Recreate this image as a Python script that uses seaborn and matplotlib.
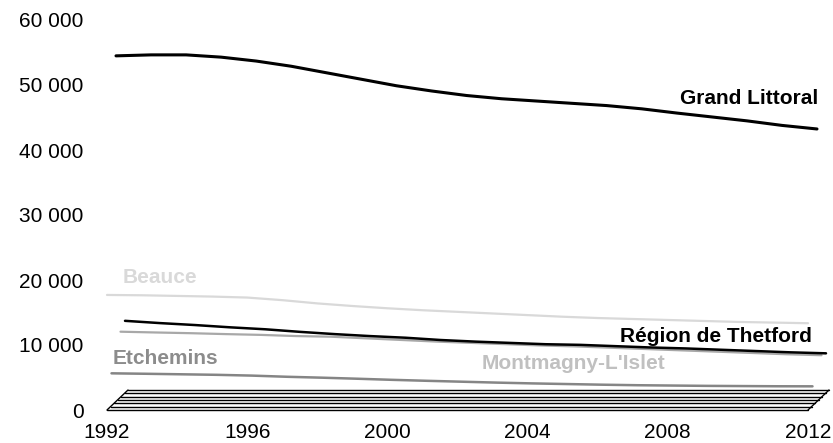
import numpy as np
import pandas as pd
import seaborn as sns
import matplotlib
matplotlib.use("Agg")
import matplotlib.pyplot as plt
from matplotlib.transforms import offset_copy, IdentityTransform

# Population by territory, 1992-2012
years = list(range(1992, 2013))
beauce = [17700, 17650, 17550, 17450, 17300, 16900, 16400, 16000, 15650, 15350,
          15100, 14850, 14600, 14350, 14150, 14000, 13850, 13700, 13550, 13450, 13350]
etchemins = [4950, 4880, 4800, 4720, 4600, 4420, 4280, 4120, 3950, 3800,
             3660, 3520, 3400, 3300, 3200, 3120, 3070, 3020, 2990, 2960, 2950]
grand_littoral = [53100, 53250, 53250, 52900, 52300, 51500, 50500, 49500, 48500, 47700,
                  47000, 46500, 46150, 45800, 45450, 44950, 44300, 43700, 43100, 42400, 41850]
montmagny = [9970, 9850, 9740, 9600, 9480, 9300, 9200, 8950, 8700, 8450,
             8250, 8050, 7850, 7700, 7500, 7300, 7100, 6900, 6700, 6500, 6350]
thetford = [10950, 10600, 10300, 9950, 9650, 9250, 8900, 8600, 8350, 8000,
            7750, 7550, 7350, 7250, 7050, 6850, 6700, 6500, 6300, 6100, 5950]

names = ["Beauce", "Etchemins", "Grand Littoral", "Montmagny-L'Islet", "Région de Thetford"]
values = [beauce, etchemins, grand_littoral, montmagny, thetford]
line_colors = ["#d9d9d9", "#858585", "#000000", "#a8a8a8", "#000000"]
line_widths = [1.6, 1.8, 2.2, 1.6, 1.8]

y_ticks = [0, 10000, 20000, 30000, 40000, 50000, 60000]
x_ticks = [1992, 1996, 2000, 2004, 2008, 2012]

df = pd.DataFrame({"Année": years * len(names),
                   "Population": sum(values, []),
                   "Territoire": sum([[n] * len(years) for n in names], [])})

sns.set_style("white")
plt.rcParams["font.family"] = ["Liberation Sans", "DejaVu Sans"]

DPI = 100
fig = plt.figure(figsize=(8.33, 4.43), dpi=DPI)
ax = fig.add_axes([107 / 833, 33 / 443, 701 / 833, 390 / 443])

# depth step between series ribbons (pseudo-3D, in pixels)
step = 4.5
for d, (name, col, lw) in enumerate(zip(names, line_colors, line_widths)):
    tr = offset_copy(ax.transData, fig=fig, x=step * d, y=step * d, units="dots")
    sns.lineplot(data=df[df["Territoire"] == name], x="Année", y="Population",
                 color=col, linewidth=lw, ax=ax, transform=tr, clip_on=False,
                 legend=False)

ax.set_xlim(1992, 2012)
ax.set_ylim(0, 60000)

# hatched floor
floor_dx, floor_dy = 21, 20
n_floor = 7
for k in range(n_floor):
    tr = offset_copy(ax.transData, fig=fig, x=floor_dx * k / (n_floor - 1),
                     y=floor_dy * k / (n_floor - 1), units="dots")
    ax.plot([1992, 2012], [0, 0], color="black", lw=1.0, transform=tr, clip_on=False)
fig.canvas.draw()
for xe in (1992, 2012):
    p0 = ax.transData.transform((xe, 0))
    ax.add_line(plt.Line2D([p0[0], p0[0] + floor_dx], [p0[1], p0[1] + floor_dy],
                           color="black", lw=1.0, transform=IdentityTransform(),
                           clip_on=False))

ax.set_xticks(x_ticks)
ax.set_yticks(y_ticks)
ax.set_yticklabels([f"{v:,}".replace(",", " ") for v in y_ticks])
ax.tick_params(axis="both", length=0, labelsize=15, colors="black")
ax.tick_params(axis="y", pad=17)
ax.tick_params(axis="x", pad=9)
ax.set_xlabel("")
ax.set_ylabel("")
for s in ax.spines.values():
    s.set_visible(False)

# series labels
lab = dict(fontsize=15, fontweight="bold", va="center")
ax.text(2012.28, 48000, "Grand Littoral", color="black", ha="right", **lab)
ax.text(1992.46, 20460, "Beauce", color="#d9d9d9", ha="left", **lab)
ax.text(2012.11, 11380, "Région de Thetford", color="black", ha="right", **lab)
ax.text(2002.7, 7230, "Montmagny-L'Islet", color="#c0c0c0", ha="left", **lab)
ax.text(1992.17, 8000, "Etchemins", color="#8c8c8c", ha="left", **lab)

fig.savefig("out.png", dpi=DPI)
